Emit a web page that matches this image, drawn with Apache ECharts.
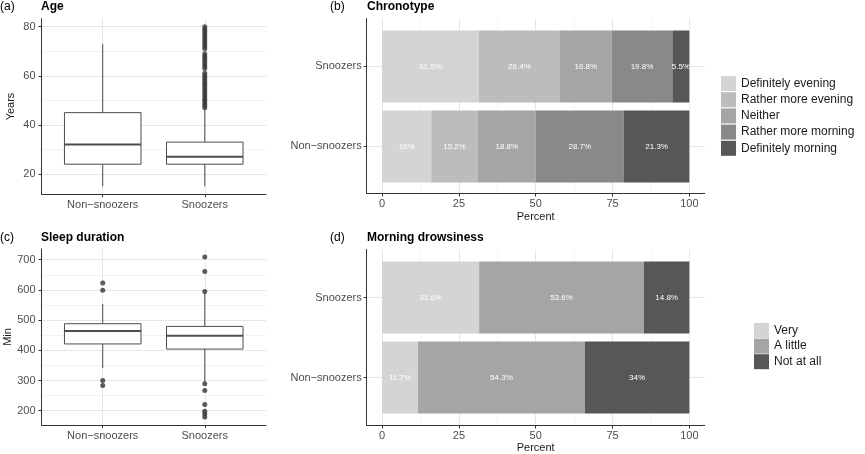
<!DOCTYPE html>
<html><head><meta charset="utf-8">
<script src="https://cdn.jsdelivr.net/npm/echarts@6/dist/echarts.min.js"></script>
<style>html,body{margin:0;padding:0;background:#fff}#c{width:865px;height:454px}</style>
</head><body><div id="c"></div>
<script>
// ---------- data ----------
const groups = ['Non−snoozers', 'Snoozers'];
// [lower whisker, Q1, median, Q3, upper whisker]
const ageBox = [[15, 24, 32, 45, 73], [15, 24, 27, 33, 46]];
const ageOutliersSnoozers = [47,48,49,50,51,52,53,54,55,56,57,58,59,60,61,63,64,65,66,67,68,69,71,72,73,74,75,76,77,78,79,80];
const sleepBox = [[341, 421, 464, 488, 553], [295, 404, 448, 479, 590]];
const sleepOutliersNon = [623, 599, 300, 283];
const sleepOutliersSnoozers = [709, 661, 595, 289, 267, 220, 198, 189, 179];
const chronoLevels = ['Definitely evening', 'Rather more evening', 'Neither', 'Rather more morning', 'Definitely morning'];
const chronoNon = [16, 15.2, 18.8, 28.7, 21.3];
const chronoSnoozers = [31.5, 26.4, 16.8, 19.8, 5.5];
const drowsLevels = ['Very', 'A little', 'Not at all'];
const drowsNon = [11.7, 54.3, 34];
const drowsSnoozers = [31.6, 53.6, 14.8];
const ageTicks = [20, 40, 60, 80];
const ageMinor = [30, 50, 70];
const sleepTicks = [200, 300, 400, 500, 600, 700];
const sleepMinor = [250, 350, 450, 550, 650];
const pctTicks = [0, 25, 50, 75, 100];
const pctMinor = [12.5, 37.5, 62.5, 87.5];
const groupTicks = [1, 2];

// ---------- styles ----------
const chronoColors = ['#d4d4d4', '#bcbcbc', '#a5a5a5', '#898989', '#575757'];
const drowsColors = ['#d4d4d4', '#a5a5a5', '#575757'];
const FONT = 'Liberation Sans, Arial, sans-serif';
const AXIS = '#333333';
const MAJ = '#e6e6e6';
const MIN = '#f2f2f2';
const BOX = '#4d4d4d';

function ext(lo, hi) { const d = (hi - lo) * 0.05; return [lo - d, hi + d]; }
const ageExt = ext(15, 80);
const sleepExt = ext(179, 709);

function visAxis(gridIndex, min, max, ticks, extra) {
  return Object.assign({
    type: 'value', gridIndex, min, max,
    axisLine: { show: true, onZero: false, lineStyle: { color: AXIS, width: 1 } },
    axisTick: { show: true, length: 3, customValues: ticks, lineStyle: { color: AXIS } },
    axisLabel: { customValues: ticks, color: '#4d4d4d', fontSize: 11, fontFamily: FONT, margin: 6 },
    splitLine: { show: true, lineStyle: { color: MAJ, width: 1 } },
    nameTextStyle: { color: '#1a1a1a', fontSize: 11, fontFamily: FONT },
    nameLocation: 'middle'
  }, extra || {});
}
function minorAxis(gridIndex, min, max, ticks) {
  return {
    type: 'value', gridIndex, min, max,
    axisLine: { show: false, onZero: false },
    axisTick: { show: false, customValues: ticks },
    axisLabel: { show: false, customValues: ticks },
    splitLine: { show: true, lineStyle: { color: MIN, width: 1 } }
  };
}
function hiddenVal(gridIndex, min, max) {
  return { type: 'value', gridIndex, min, max, show: false, axisLine: { onZero: false }, splitLine: { show: false } };
}
function hiddenCat(gridIndex) {
  return { type: 'category', gridIndex, data: groups, show: false, axisLine: { onZero: false } };
}
const groupFmt = v => groups[Math.round(v) - 1];

function boxRender(params, api) {
  const x = api.value(0);
  const lo = api.coord([x, api.value(1)]);
  const q1 = api.coord([x, api.value(2)]);
  const md = api.coord([x, api.value(3)]);
  const q3 = api.coord([x, api.value(4)]);
  const hi = api.coord([x, api.value(5)]);
  const w = api.size([0.75, 0])[0];
  return {
    type: 'group', children: [
      { type: 'line', shape: { x1: lo[0], y1: lo[1], x2: q1[0], y2: q1[1] }, style: { stroke: BOX, lineWidth: 1 } },
      { type: 'line', shape: { x1: q3[0], y1: q3[1], x2: hi[0], y2: hi[1] }, style: { stroke: BOX, lineWidth: 1 } },
      { type: 'rect', shape: { x: q1[0] - w / 2, y: q3[1], width: w, height: q1[1] - q3[1] }, style: { fill: '#fff', stroke: BOX, lineWidth: 1 } },
      { type: 'line', shape: { x1: md[0] - w / 2, y1: md[1], x2: md[0] + w / 2, y2: md[1] }, style: { stroke: BOX, lineWidth: 2 } }
    ]
  };
}

const barLabel = {
  show: true, position: 'inside', color: '#ffffff', fontSize: 8, fontFamily: FONT,
  formatter: p => p.value + '%'
};

const grids = [
  { left: 41.5, top: 18.7, width: 224.5, height: 175.6 },
  { left: 366.7, top: 18.5, width: 338, height: 175 },
  { left: 366.7, top: 26.5, width: 338, height: 160 },
  { left: 41.5, top: 249, width: 224.5, height: 176 },
  { left: 366.7, top: 249.5, width: 338, height: 176 },
  { left: 366.7, top: 257.5, width: 338, height: 160 }
].map(g => Object.assign({ containLabel: false, outerBoundsMode: 'none' }, g));

const catLabel = { customValues: groupTicks, formatter: groupFmt, color: '#4d4d4d', fontSize: 11, fontFamily: FONT, margin: 5 };
const pctLabel = { customValues: pctTicks, color: '#4d4d4d', fontSize: 11, fontFamily: FONT, margin: 5 };

const xAxis = [
  visAxis(0, 0.4, 2.6, groupTicks, { axisLabel: catLabel }),
  visAxis(1, -5, 105, pctTicks, { name: 'Percent', nameGap: 18, axisLabel: pctLabel }),
  minorAxis(1, -5, 105, pctMinor),
  hiddenVal(2, -5, 105),
  visAxis(3, 0.4, 2.6, groupTicks, { axisLabel: catLabel }),
  visAxis(4, -5, 105, pctTicks, { name: 'Percent', nameGap: 15, axisLabel: pctLabel }),
  minorAxis(4, -5, 105, pctMinor),
  hiddenVal(5, -5, 105)
];
const yAxis = [
  visAxis(0, ageExt[0], ageExt[1], ageTicks, { name: 'Years', nameGap: 25 }),
  minorAxis(0, ageExt[0], ageExt[1], ageMinor),
  visAxis(1, 0.4, 2.6, groupTicks, { axisLabel: catLabel }),
  hiddenCat(2),
  visAxis(3, sleepExt[0], sleepExt[1], sleepTicks, { name: 'Min', nameGap: 25 }),
  minorAxis(3, sleepExt[0], sleepExt[1], sleepMinor),
  visAxis(4, 0.4, 2.6, groupTicks, { axisLabel: catLabel }),
  hiddenCat(5)
];

const series = [];
series.push({
  type: 'custom', name: 'Age', xAxisIndex: 0, yAxisIndex: 0, renderItem: boxRender,
  encode: { x: 0, y: [1, 2, 3, 4, 5] }, z: 3,
  data: ageBox.map((b, i) => [i + 1].concat(b))
});
series.push({
  type: 'scatter', name: 'Age outliers', xAxisIndex: 0, yAxisIndex: 0, symbolSize: 5, z: 4,
  itemStyle: { color: '#333333' },
  data: ageOutliersSnoozers.map(v => [2, v])
});
series.push({
  type: 'custom', name: 'Sleep duration', xAxisIndex: 4, yAxisIndex: 4, renderItem: boxRender,
  encode: { x: 0, y: [1, 2, 3, 4, 5] }, z: 3,
  data: sleepBox.map((b, i) => [i + 1].concat(b))
});
series.push({
  type: 'scatter', name: 'Sleep outliers', xAxisIndex: 4, yAxisIndex: 4, symbolSize: 5, z: 4,
  itemStyle: { color: '#333333' },
  data: sleepOutliersNon.map(v => [1, v]).concat(sleepOutliersSnoozers.map(v => [2, v]))
});
chronoLevels.forEach((lv, i) => series.push({
  type: 'bar', name: lv, stack: 'chrono', xAxisIndex: 3, yAxisIndex: 3, barWidth: 72,
  itemStyle: { color: chronoColors[i] }, label: barLabel,
  data: [chronoNon[i], chronoSnoozers[i]]
}));
drowsLevels.forEach((lv, i) => series.push({
  type: 'bar', name: lv, stack: 'drows', xAxisIndex: 7, yAxisIndex: 7, barWidth: 72,
  itemStyle: { color: drowsColors[i] }, label: barLabel,
  data: [drowsNon[i], drowsSnoozers[i]]
}));

const tStyleB = { fontSize: 12, fontWeight: 'bold', color: '#000', fontFamily: FONT };
const tStyleN = { fontSize: 12, fontWeight: 'normal', color: '#000', fontFamily: FONT };
const title = [
  { text: '(a)', left: 0, top: 1, padding: 0, textStyle: tStyleN },
  { text: 'Age', left: 41, top: 1, padding: 0, textStyle: tStyleB },
  { text: '(b)', left: 330, top: 1, padding: 0, textStyle: tStyleN },
  { text: 'Chronotype', left: 367, top: 1, padding: 0, textStyle: tStyleB },
  { text: '(c)', left: 0, top: 232, padding: 0, textStyle: tStyleN },
  { text: 'Sleep duration', left: 41, top: 232, padding: 0, textStyle: tStyleB },
  { text: '(d)', left: 330, top: 232, padding: 0, textStyle: tStyleN },
  { text: 'Morning drowsiness', left: 367, top: 232, padding: 0, textStyle: tStyleB }
];

const legend = [
  { data: chronoLevels, orient: 'vertical', left: 721, top: 76, padding: 0, icon: 'rect',
    itemWidth: 15, itemHeight: 15, itemGap: 1.2, selectedMode: false,
    textStyle: { fontSize: 12, color: '#1a1a1a', fontFamily: FONT } },
  { data: drowsLevels, orient: 'vertical', left: 754, top: 323, padding: 0, icon: 'rect',
    itemWidth: 15, itemHeight: 15, itemGap: 0.6, selectedMode: false,
    textStyle: { fontSize: 12, color: '#1a1a1a', fontFamily: FONT } }
];

const chart = echarts.init(document.getElementById('c'));
chart.setOption({
  animation: false,
  backgroundColor: '#ffffff',
  textStyle: { fontFamily: FONT },
  title, legend, grid: grids, xAxis, yAxis, series
});
</script></body></html>
